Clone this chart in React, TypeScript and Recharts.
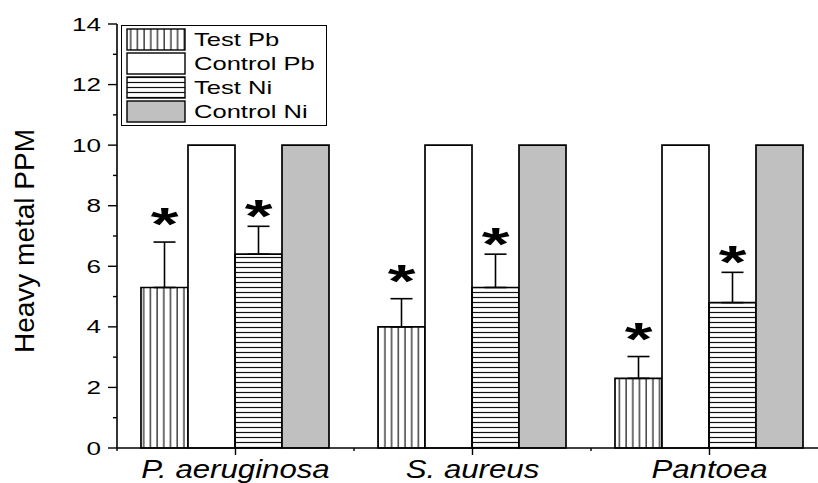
import React from "react";
import { BarChart, Bar, XAxis, YAxis, ErrorBar, LabelList, Label } from "recharts";

const categories = ["P. aeruginosa", "S. aureus", "Pantoea"];
const testPb = [5.3, 4.0, 2.3];
const testPbErr = [1.5, 0.93, 0.72];
const controlPb = [10, 10, 10];
const testNi = [6.4, 5.3, 4.8];
const testNiErr = [0.92, 1.1, 1.0];
const controlNi = [10, 10, 10];
const yTicks = [0, 1, 2, 3, 4, 5, 6, 7, 8, 9, 10, 11, 12, 13, 14];
const seriesNames = ["Test Pb", "Control Pb", "Test Ni", "Control Ni"];
const seriesFills = ["url(#vLines)", "#ffffff", "url(#hLines)", "#c0c0c0"];

const rows = categories.map((name, i) => ({
  name,
  testPb: testPb[i],
  pbErr: [0, testPbErr[i]],
  pbRatio: testPbErr[i] / testPb[i],
  controlPb: controlPb[i],
  testNi: testNi[i],
  niErr: [0, testNiErr[i]],
  niRatio: testNiErr[i] / testNi[i],
  controlNi: controlNi[i],
}));

const FONT = "'Liberation Sans', Arial, sans-serif";

// vertical + horizontal hatch patterns, shared by bars and legend
const Patterns = () => (
  <defs>
    <pattern id="vLines" patternUnits="userSpaceOnUse" width={6.7} height={10}>
      <line x1={3} y1={0} x2={3} y2={10} stroke="#111" strokeWidth={1.2} />
    </pattern>
    <pattern id="hLines" patternUnits="userSpaceOnUse" width={10} height={5}>
      <line x1={0} y1={2.5} x2={10} y2={2.5} stroke="#111" strokeWidth={1.2} />
    </pattern>
  </defs>
);

const YTick = ({ x, y, payload }: any) => {
  const major = payload.value % 2 === 0;
  return (
    <g>
      <line x1={x} y1={y} x2={x - (major ? 9 : 4)} y2={y} stroke="#000" strokeWidth={1.4} />
      {major && (
        <text
          transform={`translate(${x - 16},${y + 6.5}) scale(1.45,1)`}
          textAnchor="end"
          fontFamily={FONT}
          fontSize={18}
          fill="#000"
        >
          {payload.value}
        </text>
      )}
    </g>
  );
};

const XTick = ({ x, y, payload }: any) => {
  const xm = x - (payload.offset || 0);
  return (
    <g>
      <line x1={x} y1={y} x2={x} y2={y + 7} stroke="#000" strokeWidth={1.4} />
      <line x1={xm} y1={y} x2={xm} y2={y + 3} stroke="#000" strokeWidth={1.4} />
      <text
        transform={`translate(${x},${y + 30}) scale(1.2,1)`}
        textAnchor="middle"
        fontFamily={FONT}
        fontStyle="italic"
        fontSize={26}
        fill="#000"
      >
        {payload.value}
      </text>
    </g>
  );
};

// asterisk sits a fixed distance above the error bar cap
const star = (gap: number) => (props: any) => {
  const { x, y, width, height, value } = props;
  const capY = y - value * height;
  const cy = capY - gap;
  return (
    <text
      transform={`translate(${x + width / 2},${cy + 25}) scale(1.55,1)`}
      textAnchor="middle"
      fontFamily={FONT}
      fontWeight="bold"
      fontSize={46}
      fill="#000"
    >
      *
    </text>
  );
};

const YLabel = ({ viewBox }: any) => {
  const cx = viewBox.x + viewBox.width - 92;
  const cy = viewBox.y + viewBox.height / 2 + 5;
  return (
    <text
      transform={`translate(${cx + 9},${cy}) rotate(-90)`}
      textAnchor="middle"
      fontFamily={FONT}
      fontSize={28}
      fill="#000"
    >
      Heavy metal PPM
    </text>
  );
};

const LegendBox = () => (
  <div style={{ position: "absolute", left: 121, top: 25 }}>
    <svg width={208} height={102}>
      <Patterns />
      <rect x={0.5} y={0.5} width={205} height={100} fill="#fff" stroke="#000" strokeWidth={1} />
      {seriesNames.map((n, i) => (
        <g key={n}>
          <rect
            x={6}
            y={4 + i * 24}
            width={58}
            height={21}
            fill={seriesFills[i]}
            stroke="#000"
            strokeWidth={1.4}
          />
          <text
            transform={`translate(73,${20.5 + i * 24.3}) scale(1.42,1)`}
            fontFamily={FONT}
            fontSize={18}
            fill="#000"
          >
            {n}
          </text>
        </g>
      ))}
    </svg>
  </div>
);

export default function App() {
  return (
    <div style={{ position: "absolute", left: 0, top: 0, width: 818, height: 483, overflow: "hidden", background: "#fff" }}>
      <BarChart
        width={830}
        height={483}
        data={rows}
        margin={{ top: 24, right: 2, left: 57, bottom: 0 }}
        barCategoryGap={24}
        barGap={0}
      >
        <Patterns />
        <XAxis
          dataKey="name"
          height={35}
          tickSize={0}
          tickMargin={0}
          interval={0}
          tick={<XTick />}
          axisLine={{ stroke: "#000", strokeWidth: 1.6 }}
          tickLine={false}
        />
        <YAxis
          width={60}
          domain={[0, 14]}
          ticks={yTicks}
          interval={0}
          tickSize={0}
          tickMargin={0}
          tick={<YTick />}
          axisLine={{ stroke: "#000", strokeWidth: 1.6 }}
          tickLine={false}
        >
          <Label content={<YLabel />} />
        </YAxis>
        <Bar dataKey="testPb" fill="url(#vLines)" stroke="#000" strokeWidth={1.7} isAnimationActive={false}>
          <ErrorBar dataKey="pbErr" width={11} stroke="#000" strokeWidth={1.6} direction="y" />
          <LabelList dataKey="pbRatio" content={star(27)} />
        </Bar>
        <Bar dataKey="controlPb" fill="#ffffff" stroke="#000" strokeWidth={1.7} isAnimationActive={false} />
        <Bar dataKey="testNi" fill="url(#hLines)" stroke="#000" strokeWidth={1.7} isAnimationActive={false}>
          <ErrorBar dataKey="niErr" width={11} stroke="#000" strokeWidth={1.6} direction="y" />
          <LabelList dataKey="niRatio" content={star(19)} />
        </Bar>
        <Bar dataKey="controlNi" fill="#c0c0c0" stroke="#000" strokeWidth={1.7} isAnimationActive={false} />
      </BarChart>
      <LegendBox />
    </div>
  );
}
